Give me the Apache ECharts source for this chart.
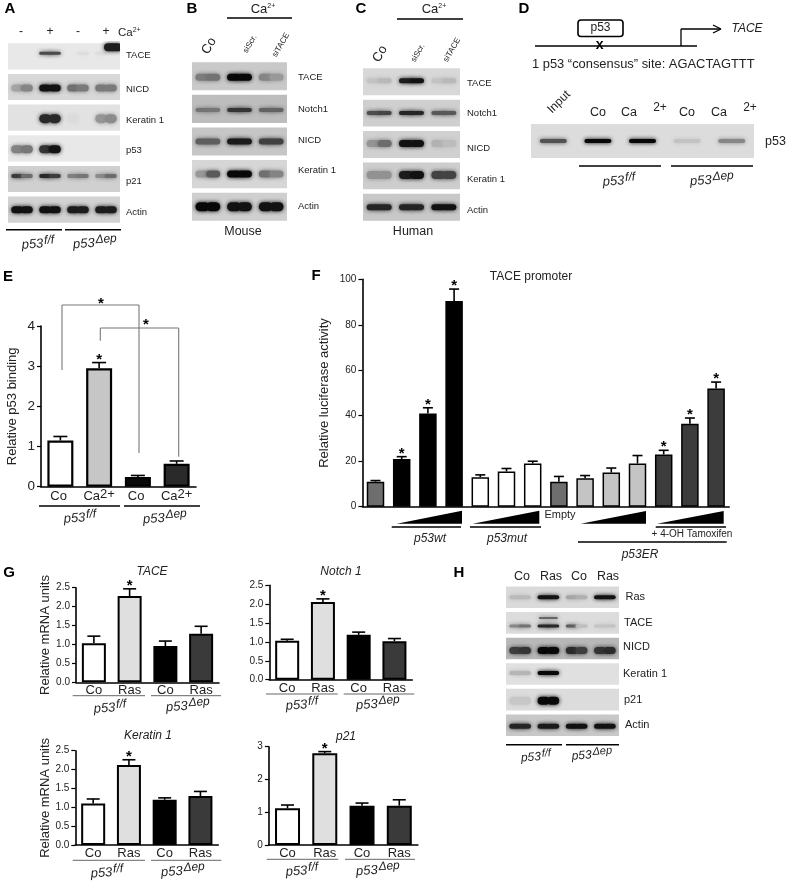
<!DOCTYPE html>
<html><head><meta charset="utf-8">
<style>html,body{margin:0;padding:0;background:#fff}#c{width:789px;height:896px}</style>
<script src="https://cdn.jsdelivr.net/npm/echarts@6/dist/echarts.min.js"></script>
</head><body><div id="c"></div>
<script>
// ---------- bar chart data ----------
const catE = ['Co', 'Ca{s|2+}', 'Co', 'Ca{s|2+}'];
const valE = [1.15, 2.95, 0.24, 0.57];
const errE = [0.10, 0.14, 0.04, 0.07];
const starE = [0, 1, 0, 0];
const catF = ['', 'p53wt 1', 'p53wt 2', 'p53wt 3', 'p53mut 1', 'p53mut 2', 'p53mut 3', 'Empty', 'p53ER 1', 'p53ER 2', 'p53ER 3', 'Tam 1', 'Tam 2', 'Tam 3'];
const valF = [11, 21, 41, 90.5, 13, 15.5, 19, 11, 12.5, 15, 19, 23, 36.5, 52];
const errF = [0.5, 1, 2.5, 5.2, 1, 1.3, 1, 2.3, 1.2, 2, 3.5, 1.8, 2.5, 2.8];
const starF = [0, 1, 1, 1, 0, 0, 0, 0, 0, 0, 0, 1, 1, 1];
const colF = ['#6e6e6e', '#000', '#000', '#000', '#fff', '#fff', '#fff', '#6e6e6e', '#c4c4c4', '#c4c4c4', '#c4c4c4', '#3c3c3c', '#3c3c3c', '#3c3c3c'];
const catG = ['Co', 'Ras', 'Co', 'Ras'];
const valTACE = [1.03, 2.28, 0.96, 1.28];
const errTACE = [0.19, 0.19, 0.13, 0.20];
const valNotch = [1.03, 2.06, 1.19, 1.02];
const errNotch = [0.04, 0.08, 0.07, 0.07];
const valKrt = [1.10, 2.12, 1.20, 1.30];
const errKrt = [0.12, 0.14, 0.05, 0.12];
const valP21 = [1.12, 2.80, 1.20, 1.20];
const errP21 = [0.10, 0.05, 0.08, 0.18];
const starG = [0, 1, 0, 0];

// ---------- blot densitometry estimates (0..1, left and right half of each lane) ----------
const rowsA = ['TACE', 'NICD', 'Keratin 1', 'p53', 'p21', 'Actin'];
const bandsA = [
  [0, 0, .7, .7, 0, .05, .05, 0],
  [.25, .4, .95, .95, .5, .45, .45, .45],
  [0, 0, .85, .85, .03, 0, .35, .4],
  [.45, .5, .8, .95, 0, 0, 0, 0],
  [.75, .5, .85, .75, .4, .45, .35, .5],
  [.95, .95, .95, .95, .9, .9, .9, .9]];
const rowsB = ['TACE', 'Notch1', 'NICD', 'Keratin 1', 'Actin'];
const bandsB = [
  [.4, .45, 1, 1, .35, .25],
  [.4, .4, .75, .75, .5, .5],
  [.55, .55, .9, .9, .7, .7],
  [.3, .6, 1, 1, .5, .4],
  [1, 1, .95, .95, .95, .95]];
const rowsC = ['TACE', 'Notch1', 'NICD', 'Keratin 1', 'Actin'];
const bandsC = [
  [.1, .15, .9, .95, .1, .15],
  [.65, .7, .85, .85, .6, .6],
  [.3, .5, .95, .95, .15, .1],
  [.3, .3, .9, .95, .7, .7],
  [.85, .85, .85, .85, .95, .95]];
const rowsD = ['p53'];
const bandsD = [[.65, 1, 1, .12, .4]];
const rowsH = ['Ras', 'TACE', 'NICD', 'Keratin 1', 'p21', 'Actin'];
const bandsH = [
  [.15, .15, .95, .95, .25, .2, .95, .95],
  [.4, .5, .85, .85, .6, .15, .12, .12],
  [.7, .75, 1, 1, .8, .7, .75, .8],
  [.2, .2, 1, 1, 0, 0, 0, 0],
  [.1, .1, 1, 1, 0, 0, 0, 0],
  [.85, .85, .9, .9, .95, .95, .95, .95]];

// ---------- layout ----------
const FONT = '"Liberation Sans", Arial, sans-serif';
const grids = [], xAxes = [], yAxes = [], series = [];

function errorSeries(gi, vals, errs, stars, capW) {
  series.push({
    type: 'custom', xAxisIndex: gi, yAxisIndex: gi, z: 3, silent: true,
    data: vals.map((v, i) => [i, v, errs[i], stars[i]]),
    encode: { x: 0, y: [1, 2] },
    renderItem(p, api) {
      const i = api.value(0), v = api.value(1), e = api.value(2), s = api.value(3);
      const a = api.coord([i, v]), b = api.coord([i, v + e]);
      const st = { stroke: '#000', lineWidth: 1.6 };
      const ch = [
        { type: 'line', shape: { x1: a[0], y1: a[1], x2: b[0], y2: b[1] }, style: st },
        { type: 'line', shape: { x1: b[0] - capW / 2, y1: b[1], x2: b[0] + capW / 2, y2: b[1] }, style: st }];
      if (s) ch.push({ type: 'text', x: b[0], y: b[1] - 3, style: { text: '*', font: 'bold 15px ' + FONT, fill: '#000', align: 'center', verticalAlign: 'middle', textAlign: 'center', textVerticalAlign: 'middle' } });
      return { type: 'group', children: ch };
    }
  });
}

function barChart(o) {
  const gi = grids.length;
  grids.push({ left: o.left, top: o.top, width: o.width, height: o.height });
  xAxes.push({
    type: 'category', gridIndex: gi, data: o.cats,
    axisTick: { show: false },
    axisLine: { lineStyle: { color: '#000', width: 1.6 } },
    axisLabel: {
      show: o.showLabels !== false, interval: 0, margin: o.labelMargin === undefined ? 2 : o.labelMargin, color: '#222',
      fontFamily: FONT, fontSize: o.labelSize || 13,
      formatter: o.padSup ? (v => v.indexOf('{') < 0 ? v + '{s| }' : v) : undefined,
      rich: { s: { fontSize: 13, fontFamily: FONT, color: '#222', padding: [0, 0, 5, 0] } }
    }
  });
  yAxes.push({
    type: 'value', gridIndex: gi, min: 0, max: o.max, interval: o.interval,
    name: o.yName || '', nameLocation: 'middle', nameGap: o.nameGap || 30,
    nameTextStyle: { fontFamily: FONT, fontSize: 13, color: '#222' },
    splitLine: { show: false },
    axisTick: { show: true, length: 4, lineStyle: { color: '#000', width: 1.2 } },
    axisLine: { show: true, lineStyle: { color: '#000', width: 1.6 } },
    axisLabel: { margin: o.tickMargin || 6, color: '#222', fontFamily: FONT, fontSize: o.tickSize || 10, formatter: o.tickFmt }
  });
  series.push({
    type: 'bar', xAxisIndex: gi, yAxisIndex: gi, barWidth: o.barWidth, z: 4, silent: true,
    data: o.vals.map((v, i) => ({ value: v, itemStyle: { color: o.colors[i], borderColor: '#000', borderWidth: o.border || 2 } }))
  });
  errorSeries(gi, o.vals, o.errs, o.stars, o.capW);
}

function hex(c) { return parseInt(c.slice(1, 3), 16); }
function blot(o) {
  const gi = grids.length;
  grids.push({ left: o.left, top: o.top, width: o.width, height: o.height });
  xAxes.push({ type: 'value', gridIndex: gi, min: 0, max: o.lanes, show: false });
  yAxes.push({ type: 'category', gridIndex: gi, data: o.rows, inverse: true, show: false });
  series.push({
    type: 'custom', xAxisIndex: gi, yAxisIndex: gi, z: 1, silent: true, clip: true,
    data: o.rows.map((r, i) => [i]),
    encode: { y: 0 },
    renderItem(p, api) {
      const i = api.value(0), c = api.coord([0, i]), h = api.size([0, 1])[1];
      return { type: 'rect', shape: { x: o.left, y: c[1] - h / 2 + o.gap / 2, width: o.width, height: h - o.gap }, style: { fill: o.bg[i] } };
    }
  });
  const items = [];
  const sub = o.bands[0].length / o.lanes;
  o.bands.forEach((row, r) => row.forEach((v, k) => {
    if (v <= 0) return;
    const lane = Math.floor(k / sub) + .5;
    const off = sub === 2 ? (k % 2 ? .17 : -.17) : 0;
    items.push([lane + off, r, v, o.bh[r], o.bw, o.dy[r] || 0]);
  }));
  (o.extra || []).forEach(e => items.push(e));
  series.push({
    type: 'custom', xAxisIndex: gi, yAxisIndex: gi, z: 2, silent: true, clip: true,
    data: items, encode: { x: 0, y: 1 },
    renderItem(p, api) {
      const c = api.coord([api.value(0), api.value(1)]);
      const a = api.value(2), h = api.value(3), w = api.value(4), dy = api.value(5);
      const base = hex(o.bg[api.value(1)]);
      const lev = Math.round(base * (1 - a) + 8 * a);
      const col = 'rgb(' + lev + ',' + lev + ',' + lev + ')';
      return { type: 'rect', shape: { x: c[0] - w / 2, y: c[1] + dy - h / 2, width: w, height: h, r: h / 2 }, style: { fill: col, shadowBlur: 4, shadowColor: col, blend: 'darken' } };
    }
  });
}

// Panel E
barChart({ left: 41, top: 326, width: 155, height: 160.7, cats: catE, vals: valE, errs: errE, stars: starE, colors: ['#fff', '#c6c6c6', '#0a0a0a', '#2a2a2a'], max: 4, interval: 1, barWidth: 26, capW: 14, tickSize: 13.5, yName: 'Relative p53 binding', nameGap: 22, border: 2.2, padSup: true, labelMargin: 1 });
// Panel F
barChart({ left: 362.4, top: 279.3, width: 366.8, height: 227.4, cats: catF, vals: valF, errs: errF, stars: starF, colors: colF, max: 100, interval: 20, barWidth: 17.5, capW: 10, tickSize: 10, yName: 'Relative luciferase activity', nameGap: 31, showLabels: false, border: 1.5 });
// Panel G
const colG = ['#fff', '#dfdfdf', '#000', '#3a3a3a'];
barChart({ left: 76, top: 587.7, width: 143, height: 94.6, cats: catG, vals: valTACE, errs: errTACE, stars: starG, colors: colG, max: 2.5, interval: .5, barWidth: 24, capW: 13, yName: 'Relative mRNA units', nameGap: 20, tickFmt: v => v.toFixed(1) });
barChart({ left: 269.3, top: 585.3, width: 143, height: 94.4, cats: catG, vals: valNotch, errs: errNotch, stars: starG, colors: colG, max: 2.5, interval: .5, barWidth: 24, capW: 13, tickFmt: v => v.toFixed(1) });
barChart({ left: 75.3, top: 750.7, width: 143, height: 94.3, cats: catG, vals: valKrt, errs: errKrt, stars: starG, colors: colG, max: 2.5, interval: .5, barWidth: 24, capW: 13, yName: 'Relative mRNA units', nameGap: 20, tickFmt: v => v.toFixed(1) });
barChart({ left: 268.9, top: 746.7, width: 149, height: 98.3, cats: catG, vals: valP21, errs: errP21, stars: starG, colors: colG, max: 3, interval: 1, barWidth: 25, capW: 13 });

// Blots
blot({ left: 8, top: 41, width: 112, height: 184, lanes: 4, rows: rowsA, bands: bandsA, gap: 4.5, bw: 12, bg: ['#e8e8e8', '#d8d8d8', '#e2e2e2', '#e8e8e8', '#d0d0d0', '#d2d2d2'], bh: [3, 7, 9, 8, 4, 7], dy: [-3, 1, 1, 1, -3, 0], extra: [[3.75, 0, .9, 8, 18, -9]] });
blot({ left: 192, top: 60, width: 95, height: 163, lanes: 3, rows: rowsB, bands: bandsB, gap: 4.5, bw: 14, bg: ['#c9c9c9', '#bdbdbd', '#c6c6c6', '#d6d6d6', '#cfcfcf'], bh: [7, 4, 6, 7, 9], dy: [1, 1, 0, 0, 0] });
blot({ left: 363, top: 66, width: 97, height: 157, lanes: 3, rows: rowsC, bands: bandsC, gap: 4.5, bw: 14, bg: ['#d8d8d8', '#cfcfcf', '#d0d0d0', '#cdcdcd', '#c8c8c8'], bh: [5, 4, 7, 8, 6], dy: [-1, 0, -1, -1, 0] });
blot({ left: 531, top: 124, width: 223, height: 34, lanes: 5, rows: rowsD, bands: bandsD, gap: 0, bw: 27, bg: ['#dcdcdc'], bh: [4], dy: [0] });
blot({ left: 506, top: 584.5, width: 113, height: 153.5, lanes: 4, rows: rowsH, bands: bandsH, gap: 4, bw: 12, bg: ['#dadada', '#dcdcdc', '#b8b8b8', '#e0e0e0', '#dcdcdc', '#c8c8c8'], bh: [4, 3, 7, 4, 8, 5], dy: [0, 3, 2, -1, 1, 1], extra: [[1.5, 1, .55, 2, 19, -5]] });

// ---------- annotation helpers ----------
const g = [];
function T(x, y, text, size, opt) {
  opt = opt || {};
  g.push({
    type: 'text', x, y, rotation: opt.rot || 0, z: 10, silent: true,
    style: {
      text, font: (opt.style || '') + ' ' + size + 'px ' + FONT, fill: opt.fill || '#222',
      align: opt.align || 'center', verticalAlign: 'middle', textAlign: opt.align || 'center', textVerticalAlign: 'middle', rich: opt.rich
    }
  });
}
function L(x1, y1, x2, y2, w, c) {
  g.push({ type: 'line', z: 10, silent: true, shape: { x1, y1, x2, y2 }, style: { stroke: c || '#000', lineWidth: w || 1.5 } });
}
function P(points, fill) {
  g.push({ type: 'polygon', z: 10, silent: true, shape: { points }, style: { fill: fill || '#000' } });
}
function geno(x, y, main, sup, size) {
  const s = size || 13;
  T(x, y, '{a|p53}{b|' + main + '}', s, {
    rot: 0.07, rich: {
      a: { font: 'italic ' + s + 'px ' + FONT, fill: '#222', color: '#222' },
      b: { font: 'italic ' + (s - 1) + 'px ' + FONT, fill: '#222', color: '#222', padding: [0, 0, 6, 1] }
    }
  });
}
function letter(x, y, t) { T(x, y, t, 15, { style: 'bold', fill: '#000' }); }
function ca(x, y, s) {
  T(x, y, 'Ca{s|2+}', s || 12, { rich: { s: { font: '7px ' + FONT, fill: '#222', color: '#222', padding: [0, 0, 6, 0] } } });
}
const R45 = Math.PI / 4;

// Panel A
letter(10, 9, 'A');
[[21, '-'], [50, '+'], [78, '-'], [106, '+']].forEach(a => T(a[0], 32, a[1], 12));
T(118, 33, 'Ca{s|2+}', 11.5, { align: 'left', rich: { s: { font: '7px ' + FONT, fill: '#222', color: '#222', padding: [0, 0, 5, 0] } } });
[[55, 'TACE'], [89, 'NICD'], [120, 'Keratin 1'], [150, 'p53'], [181, 'p21'], [212, 'Actin']].forEach(a => T(126, a[0], a[1], 9.5, { align: 'left' }));
L(6, 229.7, 62, 229.7, 1.6); L(65, 229.7, 121, 229.7, 1.6);
geno(38, 244, 'f/f'); geno(95, 243, 'Δep');
// Panel B
letter(192, 9, 'B');
ca(263, 9, 13);
L(227, 18, 292, 18, 1.5);
T(209, 46, 'Co', 13, { rot: Math.PI / 3 });
T(250, 44, 'siScr.', 8, { rot: Math.PI / 3 });
T(281, 45, 'siTACE', 8, { rot: Math.PI / 3 });
[[77, 'TACE'], [109, 'Notch1'], [140, 'NICD'], [170, 'Keratin 1'], [206, 'Actin']].forEach(a => T(298, a[0], a[1], 9.5, { align: 'left' }));
T(243, 232, 'Mouse', 12.5);
// Panel C
letter(361, 9, 'C');
ca(434, 9, 13);
L(397, 19, 463, 19, 1.5);
T(380, 54, 'Co', 13, { rot: Math.PI / 3 });
T(418, 53, 'siScr.', 8, { rot: Math.PI / 3 });
T(452, 50, 'siTACE', 8, { rot: Math.PI / 3 });
[[83, 'TACE'], [113, 'Notch1'], [148, 'NICD'], [179, 'Keratin 1'], [210, 'Actin']].forEach(a => T(467, a[0], a[1], 9.5, { align: 'left' }));
T(413, 232, 'Human', 12.5);
// Panel D
letter(524, 9, 'D');
L(535, 46, 697, 46, 1.4);
g.push({ type: 'rect', z: 10, silent: true, shape: { x: 578, y: 20, width: 45, height: 16.5, r: 3 }, style: { fill: '#fff', stroke: '#000', lineWidth: 1.6 } });
T(600.5, 28, 'p53', 12);
T(599.7, 45, 'x', 14, { style: 'bold', fill: '#000' });
L(681, 46, 681, 29, 1.3); L(681, 29, 720, 29, 1.3);
L(713, 25, 721, 29, 1.3); L(713, 33, 721, 29, 1.3);
T(731.5, 29, 'TACE', 12, { align: 'left', style: 'italic' });
T(532, 64, '1 p53 “consensus” site: AGACTAGTTT', 12.9, { align: 'left' });
T(559, 102, 'Input', 12, { rot: R45 });
[[598, 'Co'], [629, 'Ca'], [687, 'Co'], [719, 'Ca']].forEach(a => T(a[0], 113, a[1], 12.5));
T(660, 108, '2+', 12); T(750, 108, '2+', 12);
T(765, 142, 'p53', 12.5, { align: 'left' });
L(579, 166, 661, 166, 1.5); L(671, 166, 753, 166, 1.5);
geno(619, 181, 'f/f'); geno(712, 180, 'Δep');
// Panel E
letter(8, 277, 'E');
const brk = '#777';
L(62, 370, 62, 305, 1.1, brk); L(62, 305, 139, 305, 1.1, brk); L(139, 305, 139, 453, 1.1, brk);
L(100.3, 340.7, 100.3, 328, 1.1, brk); L(100.3, 328, 178.7, 328, 1.1, brk); L(178.7, 328, 178.7, 456.7, 1.1, brk);
T(101, 304, '*', 15, { style: 'bold', fill: '#000' });
T(146, 325, '*', 15, { style: 'bold', fill: '#000' });
L(39, 506, 120, 506, 1.6); L(124, 506, 200, 506, 1.6);
geno(80, 518, 'f/f'); geno(165, 518, 'Δep');
// Panel F
letter(316, 276, 'F');
T(531, 277, 'TACE promoter', 12);
P([[396.7, 523.7], [462, 523.7], [462, 510.7]]);
P([[472.7, 523.7], [539.3, 523.7], [539.3, 510.7]]);
P([[580.7, 523.7], [646, 523.7], [646, 511]]);
P([[657, 523.7], [723.7, 523.7], [723.7, 511]]);
L(391.7, 527, 461, 527, 1.3); L(470, 527, 541, 527, 1.3); L(655.7, 527, 726, 527, 1.3);
L(578, 542, 726.7, 542, 1.3);
T(560, 515, 'Empty', 11);
T(692, 534, '+ 4-OH Tamoxifen', 10);
T(430, 539, 'p53wt', 12, { style: 'italic' });
T(507, 539, 'p53mut', 12, { style: 'italic' });
T(640, 555, 'p53ER', 12, { style: 'italic' });
// Panel G
letter(9, 573, 'G');
T(152, 572, 'TACE', 12, { style: 'italic' });
T(341, 572, 'Notch 1', 12, { style: 'italic' });
T(148, 736, 'Keratin 1', 12, { style: 'italic' });
T(346, 737, 'p21', 12, { style: 'italic' });
const gl = '#666';
L(72.7, 695.7, 145, 695.7, 1, gl); L(151, 695.7, 221, 695.7, 1, gl);
L(266, 694, 337.7, 694, 1, gl); L(343.7, 694, 414.3, 694, 1, gl);
L(72.7, 860.3, 145, 860.3, 1, gl); L(151, 860.3, 221.3, 860.3, 1, gl);
L(266.7, 859.3, 338.3, 859.3, 1, gl); L(345, 859.3, 415, 859.3, 1, gl);
geno(110, 708, 'f/f'); geno(188, 706, 'Δep');
geno(302, 705, 'f/f'); geno(378, 704, 'Δep');
geno(107, 872.7, 'f/f'); geno(183, 871, 'Δep');
geno(302, 871, 'f/f'); geno(378, 870, 'Δep');
// Panel H
letter(459, 573, 'H');
[[522, 'Co'], [551, 'Ras'], [579, 'Co'], [608, 'Ras']].forEach(a => T(a[0], 577, a[1], 12.5));
[[597, 'Ras', 625.5], [622.7, 'TACE', 624], [647, 'NICD', 623], [674, 'Keratin 1', 623], [700, 'p21', 624], [725, 'Actin', 625]].forEach(a => T(a[2], a[0], a[1], 11, { align: 'left' }));
L(506, 744.7, 562, 744.7, 1.5); L(566, 744.7, 619, 744.7, 1.5);
geno(536, 757, 'f/f', null, 12); geno(592, 755, 'Δep', null, 12);

const chart = echarts.init(document.getElementById('c'));
chart.setOption({
  animation: false, backgroundColor: '#fff',
  grid: grids, xAxis: xAxes, yAxis: yAxes, series, graphic: g
});
</script></body></html>
